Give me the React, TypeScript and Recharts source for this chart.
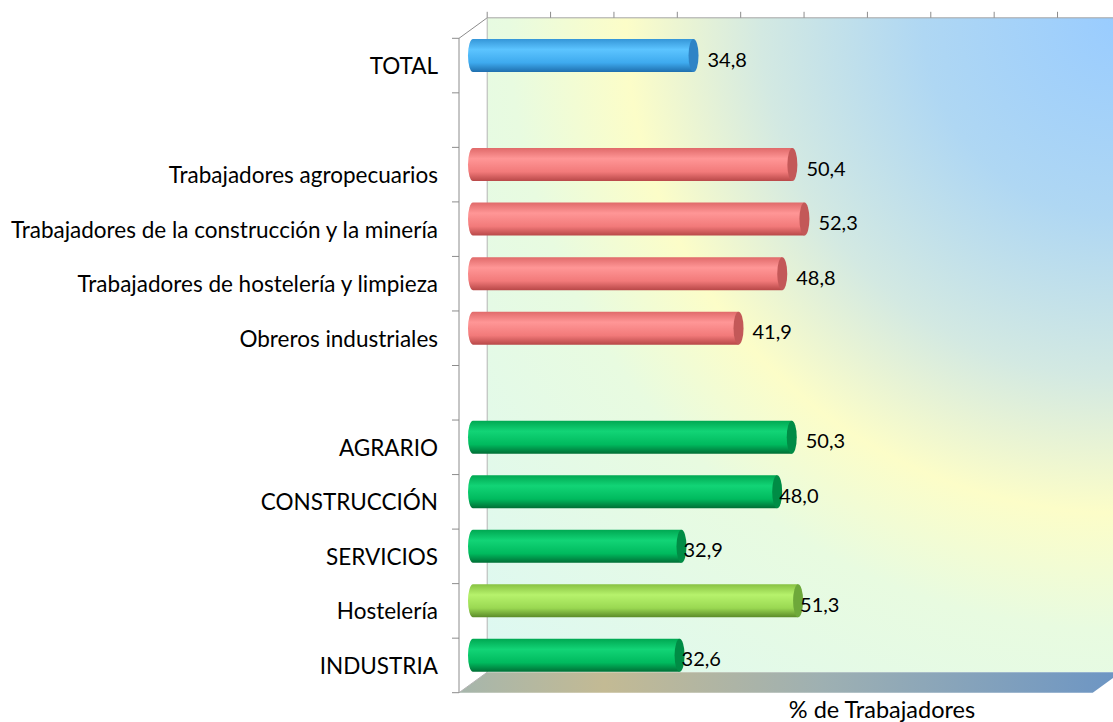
import React from 'react'
import { BarChart, Bar, XAxis, YAxis, LabelList } from 'recharts'

// rows top to bottom, the two blank rows are the gaps between groups
const categories = [
  'TOTAL',
  '',
  'Trabajadores agropecuarios',
  'Trabajadores de la construcción y la minería',
  'Trabajadores de hostelería y limpieza',
  'Obreros industriales',
  ' ',
  'AGRARIO',
  'CONSTRUCCIÓN',
  'SERVICIOS',
  'Hostelería',
  'INDUSTRIA',
]
const values = [34.8, null, 50.4, 52.3, 48.8, 41.9, null, 50.3, 48.0, 32.9, 51.3, 32.6]
const groups = ['total', 'none', 'ocupacion', 'ocupacion', 'ocupacion', 'ocupacion', 'none', 'sector', 'sector', 'sector', 'hosteleria', 'sector']
const xTicks = [0, 10, 20, 30, 40, 50, 60, 70, 80, 90, 100]
const axisTitle = '% de Trabajadores'

// labels that sit right on the cap instead of after it
const tightLabels = ['CONSTRUCCIÓN', 'SERVICIOS', 'Hostelería', 'INDUSTRIA']

const rows = categories.map((name, i) => ({ name, value: values[i], group: groups[i] }))
// LabelList only counts the rows that have a value
const labelledRows = rows.filter((r) => r.value != null)

const W = 1113
const H = 722
const PLOT_LEFT = 459
const PLOT_RIGHT = 1092.7
const PLOT_TOP = 38.3
const PLOT_BOTTOM = 692.7
const WALL_DX = 28.2
const WALL_DY = 20.5
const BAR_DX = 14
const BAR_DY = 10.3
const CAP_RX = 5
const BAND = (PLOT_BOTTOM - PLOT_TOP) / categories.length
const FONT = 'Lato, "DejaVu Sans", sans-serif'

const palette: Record<string, { stops: string[]; cap: string }> = {
  total: { stops: ['#3596d8', '#5cc4ff', '#3eaaee', '#1f6fae'], cap: '#2f84c6' },
  ocupacion: { stops: ['#e06a6a', '#ff9696', '#f27a7a', '#b84848'], cap: '#c35858' },
  sector: { stops: ['#00a852', '#12d476', '#00ba5e', '#006e35'], cap: '#008c45' },
  hosteleria: { stops: ['#88c242', '#b6f26c', '#9ad852', '#5a8a28'], cap: '#6ea83a' },
}

function Cylinder(props: any) {
  const { x, y, width, height, payload } = props
  if (payload == null || payload.value == null || !width) return null
  const pal = palette[payload.group]
  const x0 = x + BAR_DX
  const x1 = x0 + width
  const top = y - BAR_DY
  const bottom = top + height
  const ry = height / 2
  const d = `M${x0},${top} L${x1},${top} L${x1},${bottom} L${x0},${bottom} A${CAP_RX},${ry} 0 0 1 ${x0},${top} Z`
  return (
    <g>
      <path d={d} fill={`url(#body-${payload.group})`} />
      <ellipse cx={x1} cy={top + ry} rx={CAP_RX} ry={ry} fill={pal.cap} />
    </g>
  )
}

function ValueLabel(props: any) {
  const { x, y, width, height, value, index } = props
  if (value == null) return null
  const row = labelledRows[index]
  const gap = row && tightLabels.includes(row.name) ? -3 : 9
  const tx = x + BAR_DX + width + CAP_RX + gap
  const ty = y - BAR_DY + height / 2 + 3
  return (
    <text x={tx} y={ty} fontSize={20} fontFamily={FONT} fill="#000" dominantBaseline="central">
      {Number(value).toFixed(1).replace('.', ',')}
    </text>
  )
}

function CategoryTick(props: any) {
  const { x, y, payload, index } = props
  const last = index === categories.length - 1
  return (
    <g>
      <text x={x} y={y} textAnchor="end" dominantBaseline="central" fontSize={22.5} fontFamily={FONT} fill="#000">
        {payload.value}
      </text>
      <line x1={PLOT_LEFT - 7} x2={PLOT_LEFT} y1={y - BAND / 2} y2={y - BAND / 2} stroke="#8c8c8c" />
      {last && <line x1={PLOT_LEFT - 7} x2={PLOT_LEFT} y1={y + BAND / 2} y2={y + BAND / 2} stroke="#8c8c8c" />}
    </g>
  )
}

function TopTick(props: any) {
  const { x } = props
  const wallTop = PLOT_TOP - WALL_DY
  return <line x1={x + WALL_DX} x2={x + WALL_DX} y1={wallTop - 6} y2={wallTop} stroke="#8c8c8c" />
}

function TitleLabel() {
  return (
    <text x={882} y={709} textAnchor="middle" dominantBaseline="central" fontSize={23.5} fontFamily={FONT} fill="#000">
      {axisTitle}
    </text>
  )
}

function Walls() {
  const bx = PLOT_LEFT + WALL_DX
  const by = PLOT_TOP - WALL_DY
  const floorBack = PLOT_BOTTOM - WALL_DY
  return (
    <svg width={W} height={H} style={{ position: 'absolute', left: 0, top: 0 }}>
      <defs>
        <radialGradient id="wallFill" gradientUnits="userSpaceOnUse" cx={PLOT_RIGHT + WALL_DX} cy={by} r={900}>
          <stop offset="0" stopColor="#99ccff" />
          <stop offset="0.22" stopColor="#afd7f3" />
          <stop offset="0.4" stopColor="#d3e9e2" />
          <stop offset="0.55" stopColor="#fcfdc8" />
          <stop offset="0.68" stopColor="#e8fbe0" />
          <stop offset="1" stopColor="#ddf8f2" />
        </radialGradient>
        <linearGradient id="floorFill" gradientUnits="userSpaceOnUse" x1={PLOT_LEFT} y1={0} x2={PLOT_RIGHT + WALL_DX} y2={0}>
          <stop offset="0" stopColor="#a6b6ac" />
          <stop offset="0.22" stopColor="#c3ba94" />
          <stop offset="0.55" stopColor="#9eb0b2" />
          <stop offset="1" stopColor="#6c95c4" />
        </linearGradient>
        {Object.keys(palette).map((g) => (
          <linearGradient key={g} id={`body-${g}`} x1="0" y1="0" x2="0" y2="1">
            <stop offset="0" stopColor={palette[g].stops[0]} />
            <stop offset="0.32" stopColor={palette[g].stops[1]} />
            <stop offset="0.72" stopColor={palette[g].stops[2]} />
            <stop offset="1" stopColor={palette[g].stops[3]} />
          </linearGradient>
        ))}
      </defs>
      <rect x={bx} y={by} width={W - bx + 20} height={floorBack - by} fill="url(#wallFill)" />
      <polygon
        points={`${PLOT_LEFT},${PLOT_BOTTOM} ${bx},${floorBack} ${PLOT_RIGHT + WALL_DX},${floorBack} ${PLOT_RIGHT},${PLOT_BOTTOM}`}
        fill="url(#floorFill)"
      />
      <line x1={PLOT_LEFT} y1={PLOT_TOP} x2={bx} y2={by} stroke="#8c8c8c" />
      <line x1={bx} y1={by} x2={W + 20} y2={by} stroke="#a6a6a6" />
      <line x1={bx} y1={by} x2={bx} y2={floorBack} stroke="#b4b4b4" />
      <line x1={PLOT_LEFT} y1={PLOT_BOTTOM} x2={bx} y2={floorBack} stroke="#b4b4b4" />
    </svg>
  )
}

export default function App() {
  return (
    <div style={{ position: 'absolute', left: 0, top: 0, width: W, height: H, background: '#fff' }}>
      <Walls />
      <BarChart
        width={W}
        height={H}
        data={rows}
        layout="vertical"
        margin={{ top: 0, right: W - PLOT_RIGHT, bottom: 0, left: 0 }}
      >
        <XAxis
          xAxisId="top"
          orientation="top"
          type="number"
          domain={[0, 100]}
          ticks={xTicks}
          interval={0}
          height={PLOT_TOP}
          axisLine={false}
          tickLine={false}
          tick={<TopTick />}
        />
        <XAxis
          xAxisId="bottom"
          orientation="bottom"
          type="number"
          domain={[0, 100]}
          height={H - PLOT_BOTTOM}
          axisLine={false}
          tickLine={false}
          tick={false}
          label={{ content: <TitleLabel /> }}
        />
        <YAxis
          type="category"
          dataKey="name"
          width={PLOT_LEFT}
          interval={0}
          tickSize={7}
          tickMargin={14}
          tickLine={false}
          axisLine={{ stroke: '#8c8c8c' }}
          tick={<CategoryTick />}
        />
        <Bar dataKey="value" xAxisId="top" barSize={33} isAnimationActive={false} shape={<Cylinder />}>
          <LabelList dataKey="value" content={<ValueLabel />} />
        </Bar>
      </BarChart>
    </div>
  )
}
